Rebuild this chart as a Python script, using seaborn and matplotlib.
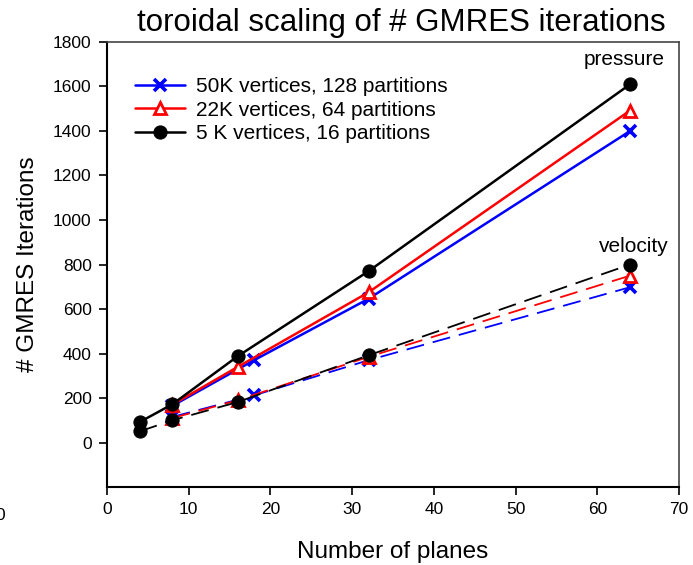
import matplotlib
matplotlib.use("Agg")
import matplotlib.pyplot as plt
import seaborn as sns
import pandas as pd

sns.set_theme(style="white")
plt.rcParams['font.family'] = ['Liberation Sans', 'DejaVu Sans']
plt.rcParams.update({"text.color": "black", "axes.labelcolor": "black",
                     "xtick.color": "black", "ytick.color": "black"})

# data
x_black = [4, 8, 16, 32, 64]
x_red = [8, 16, 32, 64]
x_blue = [8, 18, 32, 64]

p_black = [92, 172, 388, 770, 1610]
p_red = [170, 340, 675, 1492]
p_blue = [165, 370, 646, 1400]

v_black = [50, 100, 182, 392, 800]
v_red = [110, 190, 385, 750]
v_blue = [115, 212, 370, 698]

labels = ["50K vertices, 128 partitions", "22K vertices, 64 partitions", "5 K vertices, 16 partitions"]

fig = plt.figure(figsize=(6.93, 5.65), dpi=100)
ax = fig.add_axes([0.1544, 0.138, 0.8256, 0.7877])

styles = {
    "blue": dict(color="#0000ff", marker="x", markersize=8, markeredgecolor="#0000ff",
                 markeredgewidth=2.6),
    "red": dict(color="#ff0000", marker="^", markersize=8, markerfacecolor="white",
                markeredgecolor="#ff0000", markeredgewidth=2),
    "black": dict(color="black", marker="o", markersize=9.5, markeredgecolor="black",
                  markerfacecolor="black"),
}

handles = []
for key, xs, ps, vs, lab in [("blue", x_blue, p_blue, v_blue, labels[0]),
                             ("red", x_red, p_red, v_red, labels[1]),
                             ("black", x_black, p_black, v_black, labels[2])]:
    st = styles[key]
    sns.lineplot(x=xs, y=vs, ax=ax, linewidth=1.3, **st)
    ax.get_lines()[-1].set_linestyle((0, (10, 5)))
    sns.lineplot(x=xs, y=ps, ax=ax, linewidth=1.8, **st)
    handles.append(ax.get_lines()[-1])

ax.legend(handles=handles, labels=labels, loc="upper left", bbox_to_anchor=(0.035, 0.94),
          frameon=False, fontsize=15, handlelength=2.4, handletextpad=0.5,
          borderaxespad=0, labelspacing=0.22)

ax.set_xlim(0, 70)
ax.set_ylim(-200, 1800)
ax.set_xticks(range(0, 71, 10))
ax.set_yticks(range(0, 1801, 200))
ax.tick_params(axis="both", which="both", direction="out", length=6, width=1.2,
               labelsize=12.5, bottom=True, left=True, top=False, right=False, pad=5)
for s in ["left", "bottom"]:
    ax.spines[s].set_color("black")
    ax.spines[s].set_linewidth(1.5)
for s in ["top", "right"]:
    ax.spines[s].set_color("#444444")
    ax.spines[s].set_linewidth(1.2)

ax.set_xlabel("Number of planes", fontsize=17.5, labelpad=17)
ax.set_ylabel("# GMRES Iterations", fontsize=17.5, labelpad=10)
ax.set_title("toroidal scaling of # GMRES iterations", fontsize=22.5, x=0.515, pad=8)

ax.text(63.3, 1722, "pressure", fontsize=15, ha="center", va="center")
ax.text(64.5, 882, "velocity", fontsize=15, ha="center", va="center")

fig.text(-0.006, 0.088, "0", fontsize=12.5, ha="left", va="center")

fig.savefig("out.png", dpi=100)
